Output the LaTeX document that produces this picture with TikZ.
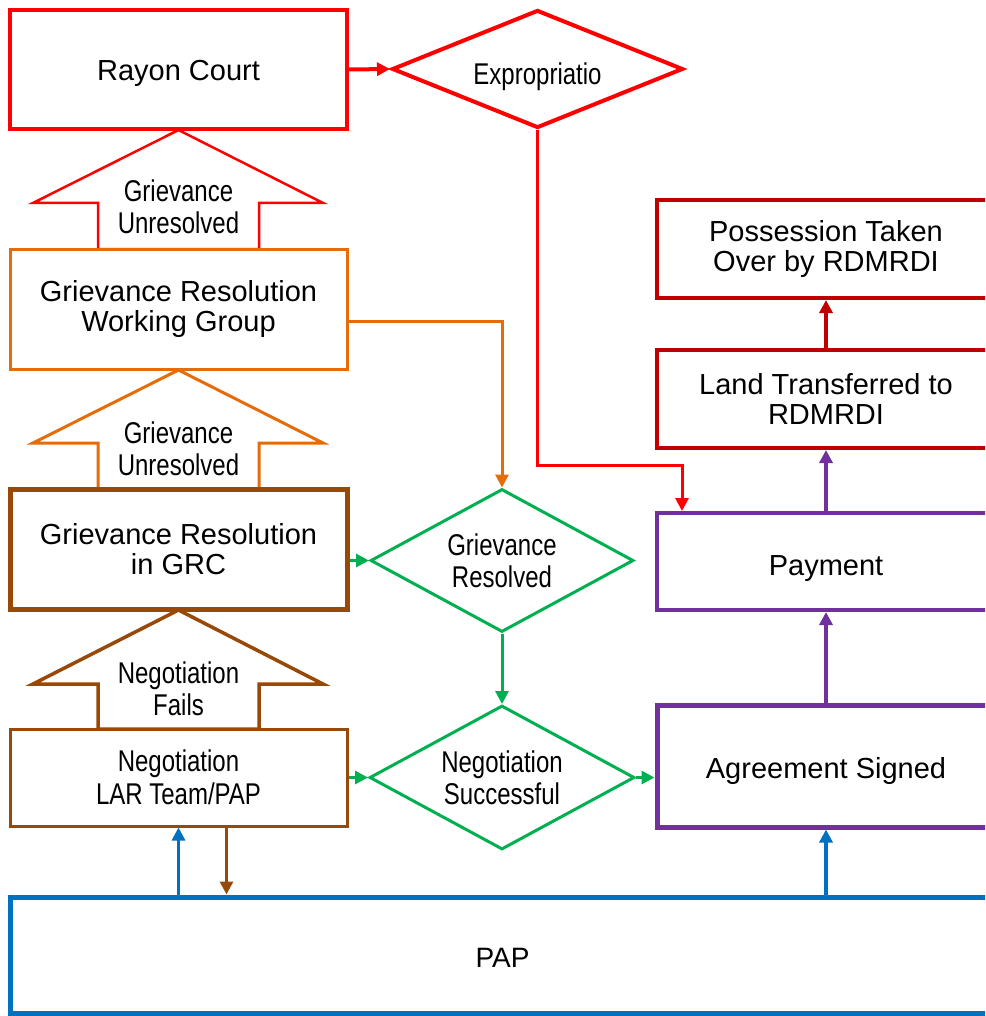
\documentclass[tikz,border=0pt]{standalone}
\usepackage{fontspec}
\setmainfont{Liberation Sans}
\newfontfamily\narrowf{Liberation Sans}[FakeStretch=0.8]
\usetikzlibrary{shapes.geometric,arrows.meta}
\definecolor{cred}{HTML}{FF0000}
\definecolor{corange}{HTML}{E46C0A}
\definecolor{cbrown}{HTML}{984807}
\definecolor{cgreen}{HTML}{00B050}
\definecolor{cpurple}{HTML}{7030A0}
\definecolor{cdred}{HTML}{C00000}
\definecolor{cblue}{HTML}{0070C0}
\tikzset{
  box/.style={rectangle, inner sep=0pt, fill=white, align=center, text=black,
    font=\fontsize{29pt}{29.5pt}\selectfont},
  nbox/.style={box, font=\narrowf\fontsize{30pt}{33pt}\selectfont},
  dia/.style={diamond, inner sep=0pt, fill=white, align=center, line width=3pt, text=black,
    font=\narrowf\fontsize{30pt}{32pt}\selectfont},
  blabel/.style={align=center, inner sep=0pt, font=\narrowf\fontsize{30pt}{32.5pt}\selectfont},
  conn/.style={line width=3pt, -{Triangle[length=13pt,width=13pt]}},
}
\begin{document}
\begin{tikzpicture}[x=1pt,y=-1pt]
\useasboundingbox (0,0) rectangle (985,1016);
\clip (0,0) rectangle (985,1016);
% block arrows
\draw[draw=cred, line width=2.5pt, fill=white] (178.5,130) -- (323,203) -- (259,203) -- (259,249) -- (98,249) -- (98,203) -- (33,203) -- cycle;
\draw[draw=corange, line width=3pt, fill=white] (178.5,370) -- (323,443) -- (259,443) -- (259,489) -- (98,489) -- (98,443) -- (33,443) -- cycle;
\draw[draw=cbrown, line width=3.5pt, fill=white] (178.5,610) -- (323,684) -- (259,684) -- (259,729) -- (98,729) -- (98,684) -- (33,684) -- cycle;
\node[blabel] (bl1) at (178.5,207) {Grievance\\Unresolved};
\node[blabel] (bl2) at (178.5,449) {Grievance\\Unresolved};
\node[blabel] (bl3) at (178.5,689) {Negotiation\\Fails};
% boxes
\node[box, draw=cred, line width=4pt, minimum width=337pt, minimum height=119pt, text height=23pt, text depth=0pt] (rayon) at (178.5,69.5) {Rayon Court};
\node[dia, draw=cred, line width=4pt, aspect=2.47, minimum width=291pt, minimum height=118pt, text height=32pt, text depth=0pt] (expro) at (537.5,69) {Expropriatio};
\node[box, draw=corange, line width=3pt, minimum width=337pt, minimum height=120pt] (grwg) at (178.5,309) {Grievance Resolution\\Working Group};
\node[box, draw=cbrown, line width=5pt, minimum width=337pt, minimum height=120pt] (grc) at (178.5,549) {Grievance Resolution\\in GRC};
\node[nbox, draw=cbrown, line width=3pt, minimum width=337pt, minimum height=97pt] (lar) at (178.5,777.5) {Negotiation\\LAR Team/PAP};
\node[dia, draw=cgreen, aspect=1.84, minimum width=263pt, minimum height=143pt] (gres) at (502,560.5) {Grievance\\Resolved};
\node[dia, draw=cgreen, aspect=1.84, minimum width=265pt, minimum height=144pt] (nsucc) at (502,777.5) {Negotiation\\Successful};
\node[box, draw=cpurple, line width=5pt, minimum width=338pt, minimum height=122pt, text height=24pt, text depth=0pt] (agree) at (826,766) {Agreement Signed};
\node[box, draw=cpurple, line width=4pt, minimum width=338pt, minimum height=97pt, text height=27pt, text depth=0pt] (pay) at (826,561.5) {Payment};
\node[box, draw=cdred, line width=4pt, minimum width=338pt, minimum height=98pt] (land) at (826,399) {Land Transferred to\\RDMRDI};
\node[box, draw=cdred, line width=4pt, minimum width=338pt, minimum height=98pt] (poss) at (826,249) {Possession Taken\\Over by RDMRDI};
\node[box, draw=cblue, line width=5pt, minimum width=985pt, minimum height=116pt, font=\fontsize{28pt}{30pt}\selectfont, text height=24pt, text depth=0pt] (pap) at (502.5,955) {PAP};
% connectors
\draw[conn, cred, line width=4pt] (rayon.east) -- (expro.west);
\coordinate (rbend) at (682,465);
\draw[conn, cred] (expro.south) |- (rbend) -- (rbend |- pay.north);
\draw[conn, corange] ([yshift=-12pt]grwg.east) -| (gres.north);
\draw[conn, cgreen] (grc.east |- gres.west) -- (gres.west);
\draw[conn, cgreen] (gres.south) -- (nsucc.north);
\draw[conn, cgreen] (lar.east) -- (nsucc.west);
\draw[conn, cgreen] (nsucc.east) -- (nsucc.east -| agree.west);
\draw[conn, cpurple, line width=4pt] (agree.north) -- (pay.south);
\draw[conn, cpurple, line width=4pt] (pay.north) -- (land.south);
\draw[conn, cdred, line width=4pt] (land.north) -- (poss.south);
\draw[conn, cblue] (lar.south |- pap.north) -- (lar.south);
\draw[conn, cbrown] ([xshift=48pt]lar.south) -- ([xshift=48pt]lar.south |- pap.north);
\draw[conn, cblue, line width=4pt] (agree.south |- pap.north) -- (agree.south);
\end{tikzpicture}
\end{document}
